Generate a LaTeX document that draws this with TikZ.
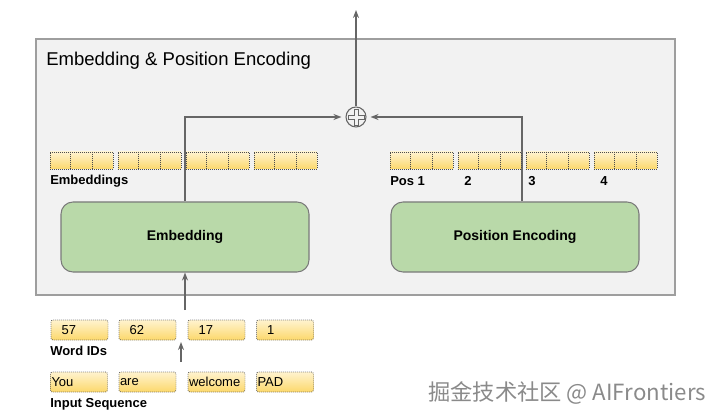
\documentclass[tikz,border=0pt]{standalone}
\usepackage{fontspec}
\setmainfont{Liberation Sans}
\newfontfamily\cjk{Noto Sans CJK SC}
\usetikzlibrary{positioning,calc,arrows.meta}
\definecolor{framefill}{HTML}{F2F2F2}
\definecolor{framedraw}{HTML}{9E9E9E}
\definecolor{linegray}{HTML}{666666}
\definecolor{dotgray}{HTML}{4D4D4D}
\definecolor{celltop}{HTML}{FFF3CF}
\definecolor{cellbot}{HTML}{FCD86B}
\definecolor{boxgreen}{HTML}{B9D9A9}
\definecolor{boxdraw}{HTML}{7A7A7A}
\definecolor{markgray}{HTML}{8A8A8A}

\begin{document}
\begin{tikzpicture}[x=0.75pt, y=-0.75pt, font=\fontsize{9.75}{12}\selectfont,
    arr/.style={draw=linegray, line width=1.1pt, -{Stealth[length=6pt,width=4.5pt]}},
    frame/.style={draw=framedraw, fill=framefill, line width=1pt, inner sep=0pt,
      minimum width=479.25pt, minimum height=192pt},
    vecbox/.style={draw=dotgray, dash pattern=on 0.5pt off 1pt, line width=0.7pt,
      top color=celltop, bottom color=cellbot, inner sep=0pt,
      minimum width=47.25pt, minimum height=12.75pt},
    div/.style={draw=dotgray, dash pattern=on 0.5pt off 1pt, line width=0.7pt},
    word/.style={vecbox, rounded corners=1.5pt, minimum width=42.75pt,
      minimum height=15pt, align=left},
    block/.style={draw=boxdraw, fill=boxgreen, line width=0.8pt, rounded corners=9pt,
      minimum width=186pt, minimum height=52.5pt,
      font=\bfseries\fontsize{10.5}{12}\selectfont},
    lbl/.style={anchor=west, inner sep=0pt, font=\bfseries\fontsize{9.75}{12}\selectfont}]
  \useasboundingbox (0,0) rectangle (720,420);
  % container
  \node[frame] (frame) at (355.5,167) {};
  \node[anchor=west, inner sep=0pt, font=\fontsize{13.9}{16}\selectfont] (title)
    at (46,61) {Embedding \& Position Encoding};
  % sum
  \node[circle, draw=linegray, line width=0.8pt, minimum size=15pt, inner sep=0pt]
    (add) at (356,117) {};
  \draw[linegray, line width=0.7pt, shift={(add.center)}]
    (-2,-8) -- (2,-8) -- (2,-2) -- (8,-2) -- (8,2) -- (2,2) -- (2,8) -- (-2,8)
    -- (-2,2) -- (-8,2) -- (-8,-2) -- (-2,-2) -- cycle;
  \coordinate (out) at (356,10);
  \draw[arr] (add.north) -- (out);
  % blocks
  \node[block] (emb) at (185,237) {Embedding};
  \node[block] (pe) at (515,237) {Position Encoding};
  \draw[arr, shorten >=3pt] (emb.north) |- (add.west);
  \draw[arr, shorten >=3pt] ([xshift=5.25pt]pe.north) |- (add.east);
  % embedding vectors
  \foreach \n/\x in {e1/81.5,e2/149.5,e3/217.5,e4/285.5,
                     p1/421.5,p2/489.5,p3/557.5,p4/625.5}{
    \node[vecbox] (\n) at (\x,160.5) {};
    \foreach \f in {1/3,2/3}
      \draw[div] ($(\n.north west)!\f!(\n.north east)$)
        -- ($(\n.south west)!\f!(\n.south east)$);
  }
  \node[lbl] (embl) at (50,181) {Embeddings};
  \node[lbl] (pos1) at (390,181) {Pos 1};
  \node[lbl] (pos2) at (464,181) {2};
  \node[lbl] (pos3) at (528,181) {3};
  \node[lbl] (pos4) at (600,181) {4};
  % word ids and input sequence
  \foreach \n/\x/\t in {w1/79.5/57,w2/147.5/62,w3/216.5/17,w4/285/1}
    \node[word, inner xsep=8pt, text width=26.75pt] (\n) at (\x,330) {\t};
  \foreach \n/\x/\t in {s1/79/You,s2/147.5/are,s3/216.5/welcome,s4/285/PAD}
    \node[word, inner xsep=0.75pt, text width=41.25pt] (\n) at (\x,382) {\t};
  \node[lbl] (widl) at (50,351) {Word IDs};
  \node[lbl] (seql) at (50,404) {Input Sequence};
  \coordinate (wid) at (185,310);
  \coordinate (seq) at (181,362);
  \coordinate (widb) at (181,342);
  \draw[arr] (wid) -- (emb.south);
  \draw[arr] (seq) -- (widb);
  % watermark
  \node[anchor=west, inner sep=0pt, text=markgray,
    font=\cjk\fontsize{16.7}{19}\selectfont] (mark) at (428,393)
    {掘金技术社区 @ AIFrontiers};
\end{tikzpicture}
\end{document}
